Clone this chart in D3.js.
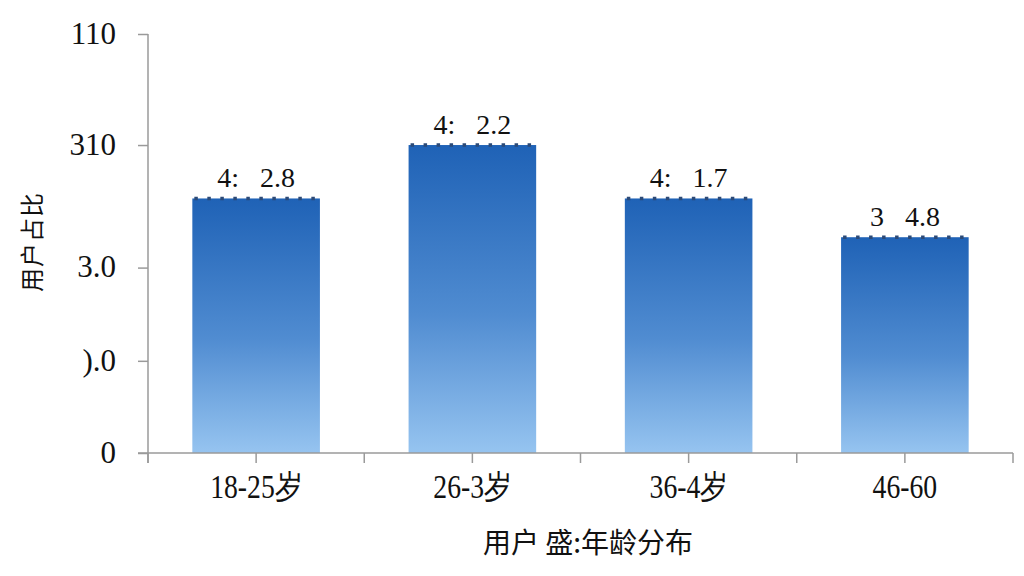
<!DOCTYPE html>
<html>
<head>
<meta charset="utf-8">
<script src="https://cdn.jsdelivr.net/npm/d3@7"></script>
<style>
  html, body { margin: 0; padding: 0; background: #fff; }
  svg { display: block; }
</style>
</head>
<body>
<svg id="chart" width="1024" height="576"></svg>
<script>
// data (labels kept as printed)
const categories = ["18-25岁", "26-3岁", "36-4岁", "46-60"];
const values = [24.3, 29.4, 24.3, 20.6];
const valueLabels = ["4: 2.8", "4: 2.2", "4: 1.7", "3 4.8"];
const yTickValues = [0, 8.8, 17.7, 29.4, 40];
const yTickLabels = ["0", ").0", "3.0", "310", "110"];
const yTitle = "用户占比";
const xTitle = "用户 盛:年龄分布";

const svg = d3.select("#chart");
const serif = "Liberation Serif, Times New Roman, serif";
const cjk = "Noto Sans CJK SC, Noto Sans, sans-serif";

const x = d3.scaleBand().domain(categories).range([148, 1013])
  .paddingInner(0.41).paddingOuter(0.205);
const y = d3.scaleLinear().domain([0, 40]).range([453, 34]);

/* gradient for bars */
const defs = svg.append("defs");
const grad = defs.append("linearGradient").attr("id", "barGrad")
  .attr("x1", 0).attr("y1", 0).attr("x2", 0).attr("y2", 1);
grad.append("stop").attr("offset", "0%").attr("stop-color", "#1f62b6");
grad.append("stop").attr("offset", "55%").attr("stop-color", "#508cd1");
grad.append("stop").attr("offset", "100%").attr("stop-color", "#96c4f0");

/* bars */
svg.append("g").selectAll("rect").data(values).join("rect")
  .attr("x", (d, i) => x(categories[i]))
  .attr("y", d => y(d))
  .attr("width", x.bandwidth())
  .attr("height", d => y(0) - y(d))
  .attr("fill", "url(#barGrad)");

/* dotted cap on each bar */
svg.append("g").selectAll("line").data(values).join("line")
  .attr("x1", (d, i) => x(categories[i]) + 2)
  .attr("x2", (d, i) => x(categories[i]) + x.bandwidth())
  .attr("y1", d => y(d))
  .attr("y2", d => y(d))
  .attr("stroke", "#2b4a78")
  .attr("stroke-width", 3.5)
  .attr("stroke-dasharray", "3.5 9.5");

/* value labels (wide gap kept as in the picture) */
svg.append("g").selectAll("text").data(values).join("text")
  .attr("x", (d, i) => x(categories[i]) + x.bandwidth() / 2)
  .attr("y", d => y(d) - 11)
  .attr("text-anchor", "middle")
  .attr("font-family", serif)
  .attr("font-size", 28)
  .attr("fill", "#111")
  .text((d, i) => valueLabels[i].replace(/\s+/, "\u00a0\u00a0\u00a0"));

/* y axis */
const yAxis = d3.axisLeft(y).tickValues(yTickValues)
  .tickFormat((d, i) => yTickLabels[i]).tickSize(10).tickPadding(22);
const gy = svg.append("g").attr("transform", "translate(148,0)").call(yAxis);
gy.select(".domain").attr("d", "M0,34V463");
gy.selectAll("path, line").attr("stroke", "#9a9a9a").attr("stroke-width", 1.5);
gy.selectAll("text")
  .attr("font-family", serif)
  .attr("font-size", 31)
  .attr("dy", "0.3em")
  .attr("fill", "#111");

/* x axis: ticks at band centers and boundaries */
const gx = svg.append("g").attr("transform", "translate(0,453)");
gx.append("line").attr("x1", 138).attr("x2", 1013).attr("y1", 0).attr("y2", 0)
  .attr("stroke", "#9a9a9a").attr("stroke-width", 1.5);
const step = x.step();
const bounds = d3.range(categories.length + 1).map(i => 148 + i * step);
const centers = categories.map(c => x(c) + x.bandwidth() / 2);
gx.selectAll("line.tk").data(bounds.concat(centers)).join("line")
  .attr("class", "tk")
  .attr("x1", d => d).attr("x2", d => d)
  .attr("y1", 0).attr("y2", 10)
  .attr("stroke", "#9a9a9a").attr("stroke-width", 1.5);
gx.selectAll("text").data(categories).join("text")
  .attr("text-anchor", "middle")
  .attr("font-family", serif)
  .attr("font-size", 33)
  .attr("fill", "#111")
  .attr("transform", d => `translate(${x(d) + x.bandwidth() / 2},45) scale(0.84,1)`)
  .text(d => d);

/* axis titles */
svg.append("text")
  .attr("transform", "translate(41,242) rotate(-90)")
  .attr("text-anchor", "middle")
  .attr("font-family", cjk)
  .attr("font-size", 24)
  .attr("letter-spacing", 1)
  .attr("fill", "#111")
  .text(yTitle);
svg.append("text")
  .attr("x", 588).attr("y", 553)
  .attr("text-anchor", "middle")
  .attr("font-family", cjk)
  .attr("font-size", 28)
  .attr("fill", "#111")
  .text(xTitle);
</script>
</body>
</html>
